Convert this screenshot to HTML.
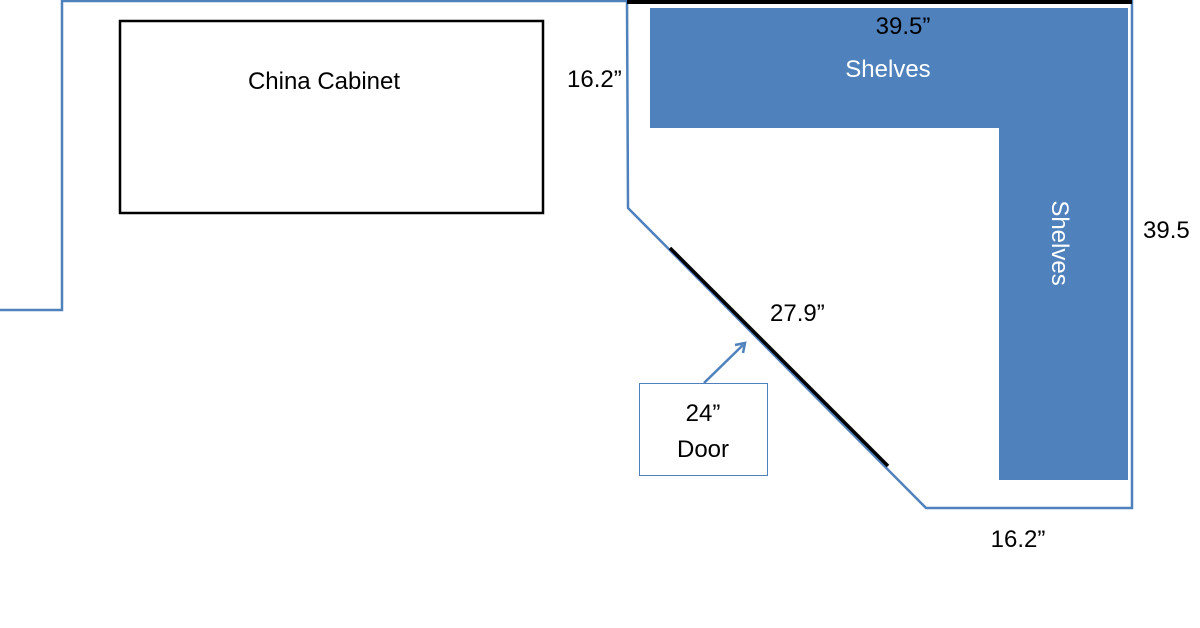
<!DOCTYPE html>
<html><head><style>
body{margin:0;background:#fff;}
svg{display:block;font-family:"Liberation Sans",Calibri,sans-serif;}
</style></head><body>
<svg width="1200" height="628" viewBox="0 0 1200 628">
<g fill="none" stroke="#4f81bd" stroke-width="2.5">
<polyline points="0,310 62,310 62,1 627,1"/>
<polyline points="627,0 628,208 926,508 1132,508 1132,0"/>
<line x1="704" y1="383" x2="743" y2="345"/>
</g>
<polyline points="735,345 745,343 743,353" fill="none" stroke="#4f81bd" stroke-width="2.5"/>
<line x1="627" y1="2" x2="1132" y2="2" stroke="#000" stroke-width="4"/>
<line x1="670" y1="248" x2="888" y2="466" stroke="#000" stroke-width="3.5"/>
<path d="M650,8 H1128 V480 H999 V128 H650 Z" fill="#4f81bd"/>
<rect x="120" y="21" width="423" height="192" fill="none" stroke="#000" stroke-width="2.5"/>
<rect x="639.5" y="383.5" width="128" height="92" fill="#fff" stroke="#4f81bd" stroke-width="1"/>
<g font-size="24" fill="#000">
<text x="324" y="89" text-anchor="middle">China Cabinet</text>
<text x="903" y="34" text-anchor="middle">39.5”</text>
<text x="567" y="87">16.2”</text>
<text x="1143" y="238">39.5</text>
<text x="770" y="321">27.9”</text>
<text x="1018" y="547" text-anchor="middle">16.2”</text>
<text x="703" y="421" text-anchor="middle">24”</text>
<text x="703" y="457" text-anchor="middle">Door</text>
</g>
<g font-size="24" fill="#fff">
<text x="888" y="77" text-anchor="middle">Shelves</text>
<text transform="translate(1052,243) rotate(90)" text-anchor="middle">Shelves</text>
</g>
</svg>
</body></html>
